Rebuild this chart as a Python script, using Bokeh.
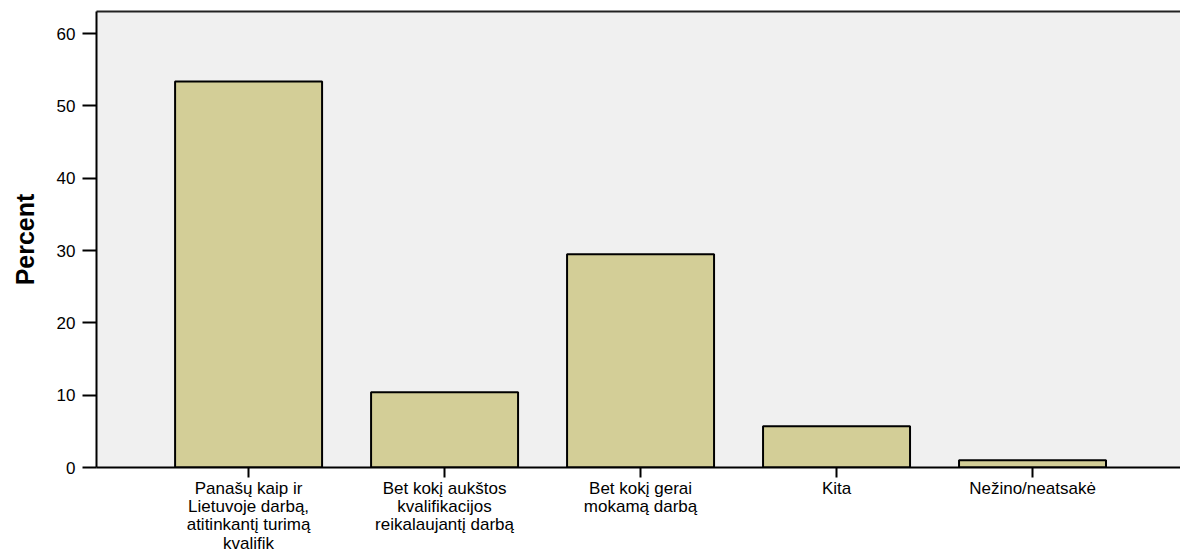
import numpy as np
from bokeh.plotting import figure
from bokeh.models import Range1d, FixedTicker, ColumnDataSource, LinearAxis
from bokeh.embed import file_html
from bokeh.resources import INLINE

categories = [
    "Panašų kaip ir\nLietuvoje darbą,\natitinkantį turimą\nkvalifik",
    "Bet kokį aukštos\nkvalifikacijos\nreikalaujantį darbą",
    "Bet kokį gerai\nmokamą darbą",
    "Kita",
    "Nežino/neatsakė",
]
percent = [53.4, 10.4, 29.5, 5.7, 1.0]
y_ticks = [0, 10, 20, 30, 40, 50, 60]

xpos = list(range(len(categories)))
src = ColumnDataSource(data=dict(x=xpos, top=percent, cat=categories))

p = figure(
    width=1180, height=555,
    output_backend="svg", toolbar_location=None,
    x_range=Range1d(-0.776, 4.755), y_range=Range1d(0, 63.07),
    min_border_left=96, min_border_right=0, min_border_top=11, min_border_bottom=88,
)

p.vbar(x="x", top="top", bottom=0, width=0.75, source=src,
       fill_color="#d3ce97", line_color="black", line_width=2)

p.background_fill_color = "#f0f0f0"
p.border_fill_color = "white"
p.outline_line_color = None
p.xgrid.visible = False
p.ygrid.visible = False

# top frame line (axis line only, no ticks or labels)
top_axis = LinearAxis(ticker=FixedTicker(ticks=[]),
                      axis_line_color="#222222", axis_line_width=2,
                      major_tick_line_color=None, minor_tick_line_color=None,
                      major_tick_in=0, major_tick_out=0,
                      minor_tick_in=0, minor_tick_out=0,
                      major_label_standoff=0)
p.add_layout(top_axis, "above")

# x axis
xa = p.below[0]
xa.ticker = FixedTicker(ticks=xpos)
xa.major_label_overrides = {i: c for i, c in zip(xpos, categories)}
xa.major_tick_in = 0
xa.major_tick_out = 10
xa.minor_tick_line_color = None
xa.axis_line_color = "black"
xa.axis_line_width = 2
xa.major_tick_line_width = 2
xa.major_label_text_font = "Liberation Sans"
xa.major_label_text_font_size = "17px"
xa.major_label_text_color = "black"
xa.major_label_text_line_height = 0.97
xa.major_label_standoff = 1

# y axis
ya = p.left[0]
ya.ticker = FixedTicker(ticks=y_ticks)
ya.major_tick_in = 0
ya.major_tick_out = 14
ya.minor_tick_line_color = None
ya.axis_line_color = "black"
ya.axis_line_width = 2
ya.major_tick_line_width = 2
ya.major_label_text_font = "Liberation Sans"
ya.major_label_text_font_size = "17px"
ya.major_label_text_color = "black"
ya.major_label_standoff = 7
ya.axis_label = "Percent"
ya.axis_label_text_font = "Liberation Sans"
ya.axis_label_text_font_style = "bold"
ya.axis_label_text_font_size = "25px"
ya.axis_label_text_color = "black"
ya.axis_label_standoff = 15

open("out.html", "w").write(file_html(p, INLINE))
